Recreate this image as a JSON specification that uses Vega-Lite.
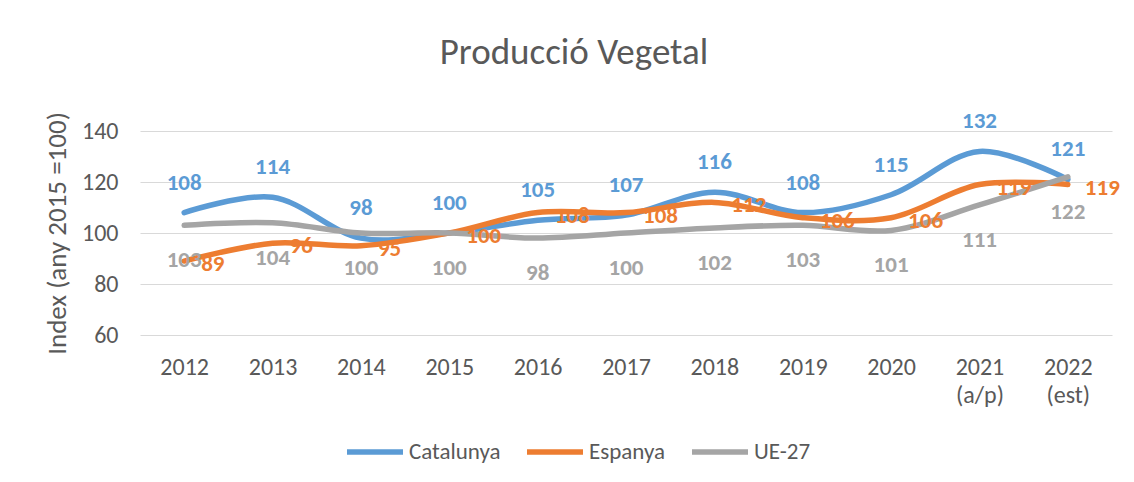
{
  "$schema": "https://vega.github.io/schema/vega-lite/v6.json",
  "width": 972,
  "height": 204,
  "autosize": {"type": "none"},
  "padding": {"left": 140, "top": 131, "right": 22, "bottom": 147},
  "background": "white",
  "config": {"view": {"stroke": null}, "font": "Carlito, Calibri, Lato"},
  "title": {"text": "Producció Vegetal", "fontSize": 37, "font": "Carlito, Calibri, Lato", "fontWeight": "normal", "color": "#595959", "anchor": "middle", "dx": -52, "offset": 38},
  "data": {"values": [
    {"year": "2012", "series": "Catalunya", "value": 108},
    {"year": "2013", "series": "Catalunya", "value": 114},
    {"year": "2014", "series": "Catalunya", "value": 98},
    {"year": "2015", "series": "Catalunya", "value": 100},
    {"year": "2016", "series": "Catalunya", "value": 105},
    {"year": "2017", "series": "Catalunya", "value": 107},
    {"year": "2018", "series": "Catalunya", "value": 116},
    {"year": "2019", "series": "Catalunya", "value": 108},
    {"year": "2020", "series": "Catalunya", "value": 115},
    {"year": "2021 (a/p)", "series": "Catalunya", "value": 132},
    {"year": "2022 (est)", "series": "Catalunya", "value": 121},
    {"year": "2012", "series": "Espanya", "value": 89},
    {"year": "2013", "series": "Espanya", "value": 96},
    {"year": "2014", "series": "Espanya", "value": 95},
    {"year": "2015", "series": "Espanya", "value": 100},
    {"year": "2016", "series": "Espanya", "value": 108},
    {"year": "2017", "series": "Espanya", "value": 108},
    {"year": "2018", "series": "Espanya", "value": 112},
    {"year": "2019", "series": "Espanya", "value": 106},
    {"year": "2020", "series": "Espanya", "value": 106},
    {"year": "2021 (a/p)", "series": "Espanya", "value": 119},
    {"year": "2022 (est)", "series": "Espanya", "value": 119},
    {"year": "2012", "series": "UE-27", "value": 103},
    {"year": "2013", "series": "UE-27", "value": 104},
    {"year": "2014", "series": "UE-27", "value": 100},
    {"year": "2015", "series": "UE-27", "value": 100},
    {"year": "2016", "series": "UE-27", "value": 98},
    {"year": "2017", "series": "UE-27", "value": 100},
    {"year": "2018", "series": "UE-27", "value": 102},
    {"year": "2019", "series": "UE-27", "value": 103},
    {"year": "2020", "series": "UE-27", "value": 101},
    {"year": "2021 (a/p)", "series": "UE-27", "value": 111},
    {"year": "2022 (est)", "series": "UE-27", "value": 122}
  ]},
  "encoding": {
    "x": {"field": "year", "type": "ordinal", "sort": null, "title": null,
      "axis": {"labelAngle": 0, "labelExpr": "split(datum.label, ' ')", "labelFontSize": 24, "labelColor": "#595959", "labelPadding": 20, "labelLineHeight": 28, "ticks": false, "domain": false, "grid": false, "labelFont": "Carlito, Calibri, Lato"}},
    "y": {"field": "value", "type": "quantitative", "scale": {"domain": [60, 140], "nice": false, "zero": false},
      "axis": {"title": "Index (any 2015 =100)", "values": [60, 80, 100, 120, 140], "titleFontSize": 27, "titleFontWeight": "normal", "titleColor": "#595959", "titlePadding": 10, "labelFontSize": 24, "labelColor": "#595959", "labelPadding": 22, "ticks": false, "domain": false, "gridColor": "#D9D9D9", "gridWidth": 1, "titleFont": "Carlito, Calibri, Lato", "labelFont": "Carlito, Calibri, Lato"}}
  },
  "layer": [
    {
      "mark": {"type": "line", "interpolate": "catmull-rom", "strokeWidth": 5.5, "strokeCap": "round", "clip": false},
      "encoding": {
        "color": {"field": "series", "type": "nominal",
          "scale": {"domain": ["Catalunya", "Espanya", "UE-27"], "range": ["#5B9BD5", "#ED7D31", "#A5A5A5"]},
          "legend": {"orient": "none", "legendX": 204, "legendY": 290, "direction": "horizontal", "title": null, "symbolType": "stroke", "symbolStrokeWidth": 5.5, "symbolSize": 3136, "labelFontSize": 23, "labelColor": "#595959", "labelFont": "Carlito, Calibri, Lato", "columnPadding": 15, "labelOffset": 3, "gridAlign": "none"}}
      }
    },
    {
      "transform": [{"filter": "datum.series === 'Catalunya'"}],
      "mark": {"type": "text", "dy": -30, "fontSize": 23, "fontWeight": "bold", "font": "Carlito, Calibri, Lato", "clip": false},
      "encoding": {"text": {"field": "value"}, "color": {"field": "series", "type": "nominal"}}
    },
    {
      "transform": [{"filter": "datum.series === 'UE-27'"}],
      "mark": {"type": "text", "dy": 35, "fontSize": 23, "fontWeight": "bold", "font": "Carlito, Calibri, Lato", "clip": false},
      "encoding": {"text": {"field": "value"}, "color": {"field": "series", "type": "nominal"}}
    },
    {
      "transform": [{"filter": "datum.series === 'Espanya'"}],
      "mark": {"type": "text", "dx": 17, "dy": 3, "align": "left", "fontSize": 23, "fontWeight": "bold", "font": "Carlito, Calibri, Lato", "clip": false},
      "encoding": {"text": {"field": "value"}, "color": {"field": "series", "type": "nominal"}}
    }
  ]
}
